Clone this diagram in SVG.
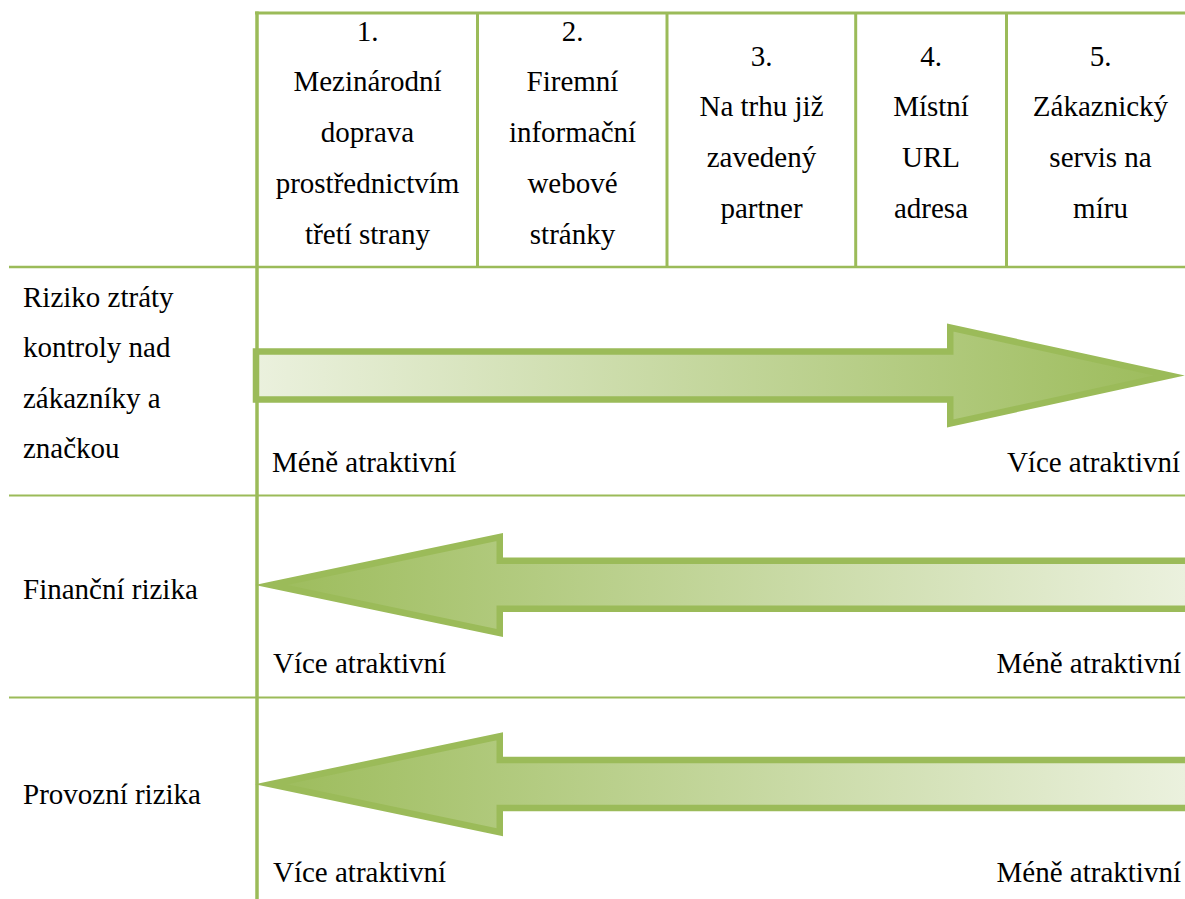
<svg xmlns="http://www.w3.org/2000/svg" width="1185" height="899" viewBox="0 0 1185 899">
<style>
  text { font-family: "Liberation Serif", "Times New Roman", Tinos, "Noto Serif", "DejaVu Serif", "Nimbus Roman", "Nimbus Roman No9 L", FreeSerif, Times, serif; font-size: 29px; fill: #000; }
  .c { text-anchor: middle; }
  .e { text-anchor: end; }
  .grid { stroke: #9BBB59; fill: none; }
  .arrow { stroke: #9BBB59; stroke-width: 6.5; stroke-linejoin: miter; stroke-miterlimit: 10; }
</style>
<defs>
  <linearGradient id="gR" gradientUnits="userSpaceOnUse" x1="253" y1="0" x2="1185" y2="0">
    <stop offset="0" stop-color="#EBF1DE"/>
    <stop offset="1" stop-color="#9BBB59"/>
  </linearGradient>
  <linearGradient id="gL" gradientUnits="userSpaceOnUse" x1="255" y1="0" x2="1185" y2="0">
    <stop offset="0" stop-color="#9BBB59"/>
    <stop offset="1" stop-color="#EBF1DE"/>
  </linearGradient>
</defs>
<rect width="1185" height="899" fill="#fff"/>

<g id="grid">
  <line class="grid" x1="255" y1="13" x2="1185" y2="13" stroke-width="3"/>
  <line class="grid" x1="257" y1="11.5" x2="257" y2="899" stroke-width="3.5"/>
  <line class="grid" x1="477.5" y1="12" x2="477.5" y2="267" stroke-width="3"/>
  <line class="grid" x1="667" y1="12" x2="667" y2="267" stroke-width="3"/>
  <line class="grid" x1="855.7" y1="12" x2="855.7" y2="267" stroke-width="3"/>
  <line class="grid" x1="1006.5" y1="12" x2="1006.5" y2="267" stroke-width="3"/>
  <line class="grid" x1="9" y1="267" x2="1185" y2="267" stroke-width="2.5"/>
  <line class="grid" x1="9" y1="495.5" x2="1185" y2="495.5" stroke-width="2"/>
  <line class="grid" x1="9" y1="697.5" x2="1185" y2="697.5" stroke-width="2"/>
</g>

<g id="header">
  <g id="col1">
    <text class="c" x="367.5" y="40.5">1.</text>
    <text class="c" x="367.5" y="91.3">Mezinárodní</text>
    <text class="c" x="367.5" y="142.1">doprava</text>
    <text class="c" x="367.5" y="192.9">prostřednictvím</text>
    <text class="c" x="367.5" y="243.7">třetí strany</text>
  </g>
  <g id="col2">
    <text class="c" x="572.5" y="40.5">2.</text>
    <text class="c" x="572.5" y="91.3">Firemní</text>
    <text class="c" x="572.5" y="142.1">informační</text>
    <text class="c" x="572.5" y="192.9">webové</text>
    <text class="c" x="572.5" y="243.7">stránky</text>
  </g>
  <g id="col3">
    <text class="c" x="761.5" y="65.5">3.</text>
    <text class="c" x="761.5" y="116.3">Na trhu již</text>
    <text class="c" x="761.5" y="167.1">zavedený</text>
    <text class="c" x="761.5" y="217.9">partner</text>
  </g>
  <g id="col4">
    <text class="c" x="931" y="65.5">4.</text>
    <text class="c" x="931" y="116.3">Místní</text>
    <text class="c" x="931" y="167.1">URL</text>
    <text class="c" x="931" y="217.9">adresa</text>
  </g>
  <g id="col5">
    <text class="c" x="1100.5" y="65.5">5.</text>
    <text class="c" x="1100.5" y="116.3">Zákaznický</text>
    <text class="c" x="1100.5" y="167.1">servis na</text>
    <text class="c" x="1100.5" y="217.9">míru</text>
  </g>
</g>

<g id="row1">
  <text x="23" y="306.7">Riziko ztráty</text>
  <text x="23" y="357.3">kontroly nad</text>
  <text x="23" y="407.8">zákazníky a</text>
  <text x="23" y="458.3">značkou</text>
  <text x="272" y="471.7">Méně atraktivní</text>
  <text class="e" x="1180" y="471.7">Více atraktivní</text>
</g>

<g id="row2">
  <text x="23" y="599.3">Finanční rizika</text>
  <text x="273" y="673.3">Více atraktivní</text>
  <text class="e" x="1181" y="673.3">Méně atraktivní</text>
</g>

<g id="row3">
  <text x="23" y="804.3">Provozní rizika</text>
  <text x="273" y="881.7">Více atraktivní</text>
  <text class="e" x="1181" y="881.7">Méně atraktivní</text>
</g>

<g id="connectors">
  <path id="arrow1" class="arrow" fill="url(#gR)" d="M256 351.5 L950.25 351.5 L950.25 327.6 L1169.6 375.5 L950.25 423.4 L950.25 399.5 L256 399.5 Z"/>
  <path id="arrow2" class="arrow" fill="url(#gL)" d="M270.8 585 L499.75 537 L499.75 560.75 L1200 560.75 L1200 608.75 L499.75 608.75 L499.75 633 Z"/>
  <path id="arrow3" class="arrow" fill="url(#gL)" d="M270.8 784.3 L499.75 736.3 L499.75 760.05 L1200 760.05 L1200 808.05 L499.75 808.05 L499.75 832.3 Z"/>
</g>
</svg>
